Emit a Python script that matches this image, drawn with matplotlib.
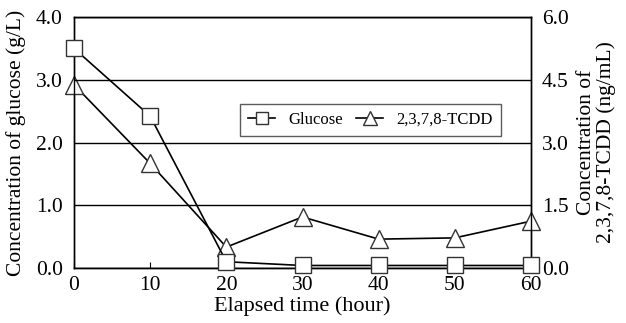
import numpy as np
import matplotlib.pyplot as plt

plt.rcParams['font.family'] = ['Liberation Serif', 'DejaVu Serif']

# data
time_h = [0, 10, 20, 30, 40, 50, 60]
glucose = [3.5, 2.42, 0.1, 0.04, 0.04, 0.04, 0.04]   # g/L
tcdd = [4.38, 2.5, 0.5, 1.22, 0.69, 0.72, 1.12]      # ng/mL

fig = plt.figure(figsize=(6.26, 3.23), dpi=100)
ax = fig.add_axes([74/626, 1-268/323, 457/626, 251/323])
ax2 = ax.twinx()

ax.plot(time_h, glucose, '-', color='k', lw=1.2, marker='s', markersize=11,
        markerfacecolor='white', markeredgecolor='#333333', markeredgewidth=1.0,
        label='Glucose', zorder=3, clip_on=False)
ax2.plot(time_h, tcdd, '-', color='k', lw=1.2, marker='^', markersize=13,
         markerfacecolor='white', markeredgecolor='#333333', markeredgewidth=1.0,
         label='2,3,7,8-TCDD', zorder=3, clip_on=False)

ax.set_xlim(0, 60)
ax.set_ylim(0, 4.0)
ax2.set_ylim(0, 6.0)
ax.set_xticks(np.arange(0, 61, 10))
ax.set_yticks(np.arange(0, 4.01, 1.0))
ax.set_yticklabels(['0.0', '1.0', '2.0', '3.0', '4.0'])
ax2.set_yticks(np.arange(0, 6.01, 1.5))
ax2.set_yticklabels(['0.0', '1.5', '3.0', '4.5', '6.0'])
ax.grid(axis='y', color='k', lw=1.0)
ax.set_axisbelow(True)
for a in (ax, ax2):
    a.tick_params(labelsize=15.5, length=0, pad=8)
    for s in a.spines.values():
        s.set_linewidth(1.0)
ax.tick_params(axis='x', direction='in', length=4, pad=6)

ax.set_xlabel('Elapsed time (hour)', fontsize=16, labelpad=1)
ax.set_ylabel('Concentration of glucose (g/L)', fontsize=15.5, labelpad=7)
ax2.set_ylabel('Concentration of\n2,3,7,8-TCDD (ng/mL)', fontsize=15.5, labelpad=6,
               linespacing=1.0)

ax.set_zorder(ax2.get_zorder() + 1)
ax.patch.set_visible(False)
h1, l1 = ax.get_legend_handles_labels()
h2, l2 = ax2.get_legend_handles_labels()
leg = ax.legend(h1 + h2, l1 + l2, loc='center left', bbox_to_anchor=(0.345, 0.59),
                ncol=2, fontsize=12, frameon=True, fancybox=False, edgecolor='#333333',
                markerscale=0.75, handlelength=1.6, handletextpad=0.8,
                columnspacing=0.8, borderpad=0.5)
leg.get_frame().set_linewidth(1.0)

plt.savefig('out.png', dpi=100)
